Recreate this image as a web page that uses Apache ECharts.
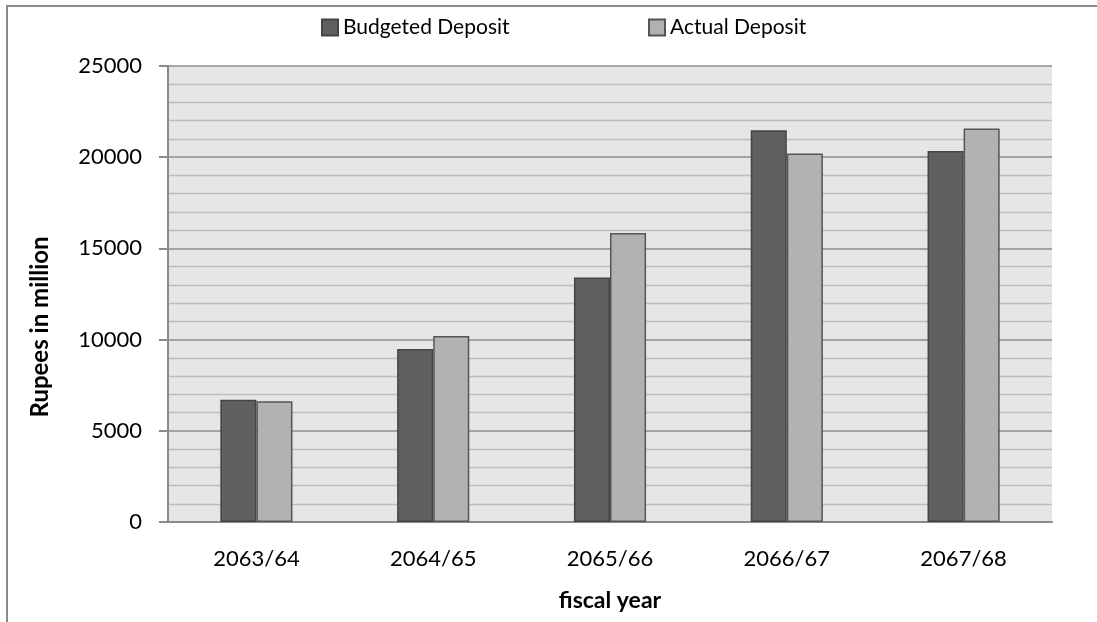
<!DOCTYPE html>
<html>
<head>
<meta charset="utf-8">
<title>Budgeted vs Actual Deposit</title>
<script src="https://cdn.jsdelivr.net/npm/echarts@6/dist/echarts.min.js"></script>
<style>
  html, body { margin: 0; padding: 0; background: #ffffff; }
  #chart { width: 1097px; height: 622px; }
</style>
</head>
<body>
<div id="chart"></div>
<script>
// Fiscal years and deposit amounts (Rupees in million)
const fiscalYears = ['2063/64', '2064/65', '2065/66', '2066/67', '2067/68'];
const budgetedDeposit = [6700, 9480, 13400, 21480, 20340];
const actualDeposit = [6620, 10200, 15850, 20200, 21580];
const yTicks = [0, 5000, 10000, 15000, 20000, 25000];

const FONT = 'Lato, "Open Sans", sans-serif';

const chart = echarts.init(document.getElementById('chart'), null, { renderer: 'canvas' });

chart.setOption({
  animation: false,
  backgroundColor: '#ffffff',
  textStyle: { fontFamily: FONT, color: '#000000' },
  grid: {
    left: 168, right: 45, top: 66, bottom: 100,
    show: true, backgroundColor: '#e6e6e6', borderWidth: 0
  },
  legend: [
    {
      data: ['Budgeted Deposit'],
      left: 316, top: 12,
      itemWidth: 16, itemHeight: 16, icon: 'rect',
      textStyle: { fontFamily: FONT, fontSize: 21, color: '#000' },
      itemGap: 4
    },
    {
      data: ['Actual Deposit'],
      left: 643, top: 12,
      itemWidth: 16, itemHeight: 16, icon: 'rect',
      textStyle: { fontFamily: FONT, fontSize: 21, color: '#000' },
      itemGap: 4
    }
  ],
  xAxis: {
    type: 'category',
    data: fiscalYears,
    axisLine: { show: true, lineStyle: { color: '#8a8a8a', width: 2 } },
    axisTick: { show: false },
    axisLabel: { fontFamily: FONT, fontSize: 22, color: '#000', margin: 26 },
    name: 'fiscal year',
    nameLocation: 'middle',
    nameGap: 67,
    nameTextStyle: { fontFamily: FONT, fontSize: 23, fontWeight: 'bold', color: '#000' }
  },
  yAxis: {
    type: 'value',
    min: yTicks[0],
    max: yTicks[yTicks.length - 1],
    interval: yTicks[1] - yTicks[0],
    axisLine: { show: true, lineStyle: { color: '#8a8a8a', width: 2 } },
    axisTick: { show: true, inside: false, length: 9, lineStyle: { color: '#8a8a8a', width: 2 } },
    axisLabel: {
      fontFamily: FONT, fontSize: 22, color: '#000', margin: 26,
      formatter: function (v) { return String(v); }
    },
    splitLine: { show: true, lineStyle: { color: '#8c8c8c', width: 1.6 } },
    minorTick: { show: false, splitNumber: 5 },
    minorSplitLine: { show: true, lineStyle: { color: '#bdbdbd', width: 1.4 } }
  },
  graphic: [
    {
      type: 'polyline',
      shape: { points: [[7, 622], [7, 6], [1097, 6]] },
      style: { stroke: '#8a8a8a', lineWidth: 2, fill: null },
      silent: true
    },
    {
      type: 'text',
      x: 40, y: 327,
      rotation: Math.PI / 2,
      style: {
        text: 'Rupees in million',
        fontFamily: FONT, fontSize: 24, fontWeight: 'bold',
        fill: '#000', align: 'center', verticalAlign: 'middle'
      }
    }
  ],
  series: [
    {
      name: 'Budgeted Deposit',
      type: 'bar',
      data: budgetedDeposit,
      barWidth: '20.4%',
      barGap: '0%',
      itemStyle: { color: '#606060', borderColor: '#444444', borderWidth: 1.5 }
    },
    {
      name: 'Actual Deposit',
      type: 'bar',
      data: actualDeposit,
      barWidth: '20.4%',
      barGap: '0%',
      itemStyle: { color: '#b2b2b2', borderColor: '#555555', borderWidth: 1.5 }
    }
  ]
});
</script>
</body>
</html>
